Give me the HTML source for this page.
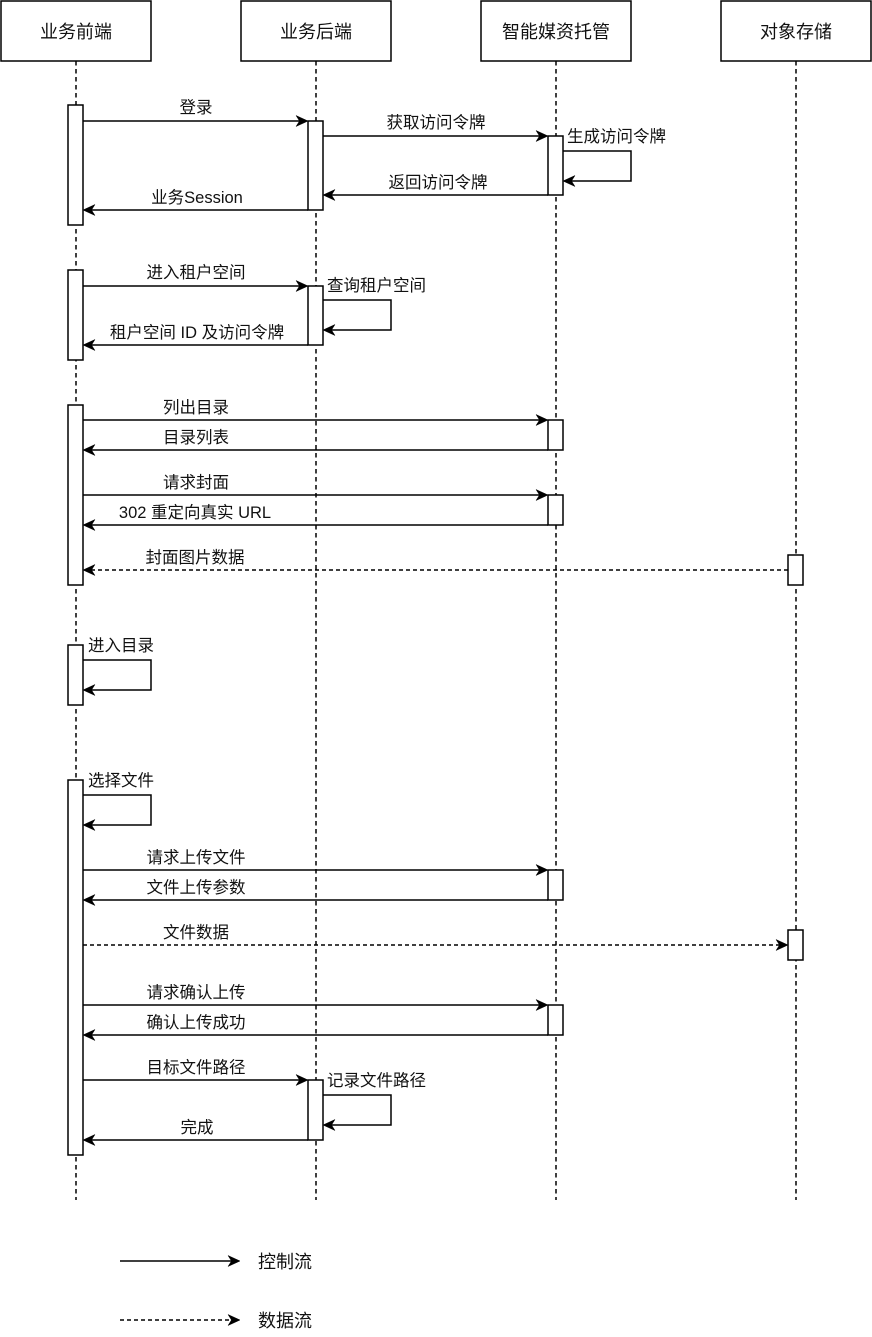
<!DOCTYPE html>
<html><head><meta charset="utf-8"><style>
html,body{margin:0;padding:0;background:#fff;}
svg{display:block;}
text{font-family:"Liberation Sans","Noto Sans CJK SC",sans-serif;fill:#111;}
.m{font-size:16.5px;text-anchor:middle;}
.s{font-size:16.5px;text-anchor:start;}
.p{font-size:18px;text-anchor:middle;}
.l{font-size:18px;text-anchor:start;}
</style></head><body>
<svg width="872" height="1337" viewBox="0 0 872 1337" xmlns="http://www.w3.org/2000/svg">
<rect x="0" y="0" width="872" height="1337" fill="#fff"/>
<!-- participants -->
<g fill="#fff" stroke="#000" stroke-width="1.5">
<rect x="1" y="1" width="150" height="60"/>
<rect x="241" y="1" width="150" height="60"/>
<rect x="481" y="1" width="150" height="60"/>
<rect x="721" y="1" width="150" height="60"/>
</g>
<text class="p" x="76" y="38">业务前端</text>
<text class="p" x="316" y="38">业务后端</text>
<text class="p" x="556" y="38">智能媒资托管</text>
<text class="p" x="796" y="38">对象存储</text>
<!-- lifelines -->
<g stroke="#000" stroke-width="1.5" stroke-dasharray="4.5 3.5">
<line x1="76" y1="61" x2="76" y2="1200"/>
<line x1="316" y1="61" x2="316" y2="1200"/>
<line x1="556" y1="61" x2="556" y2="1200"/>
<line x1="796" y1="61" x2="796" y2="1200"/>
</g>
<!-- activations -->
<g fill="#fff" stroke="#000" stroke-width="1.5">
<rect x="68" y="105" width="15" height="120"/>
<rect x="68" y="270" width="15" height="90"/>
<rect x="68" y="405" width="15" height="180"/>
<rect x="68" y="645" width="15" height="60"/>
<rect x="68" y="780" width="15" height="375"/>
<rect x="308" y="121" width="15" height="89"/>
<rect x="308" y="286" width="15" height="59"/>
<rect x="308" y="1080" width="15" height="60"/>
<rect x="548" y="136" width="15" height="59"/>
<rect x="548" y="420" width="15" height="30"/>
<rect x="548" y="495" width="15" height="30"/>
<rect x="548" y="870" width="15" height="30"/>
<rect x="548" y="1005" width="15" height="30"/>
<rect x="788" y="555" width="15" height="30"/>
<rect x="788" y="930" width="15" height="30"/>
</g>
<!-- arrow lines -->
<g stroke="#000" stroke-width="1.5" fill="none">
<line x1="83" y1="121" x2="304" y2="121"/>
<line x1="323" y1="136" x2="544" y2="136"/>
<polyline points="563,151 631,151 631,181 567,181"/>
<line x1="548" y1="195" x2="327" y2="195"/>
<line x1="308" y1="210" x2="87" y2="210"/>
<line x1="83" y1="286" x2="304" y2="286"/>
<polyline points="323,300 391,300 391,330 327,330"/>
<line x1="308" y1="345" x2="87" y2="345"/>
<line x1="83" y1="420" x2="544" y2="420"/>
<line x1="548" y1="450" x2="87" y2="450"/>
<line x1="83" y1="495" x2="544" y2="495"/>
<line x1="548" y1="525" x2="87" y2="525"/>
<line x1="788" y1="570" x2="87" y2="570" stroke-dasharray="4 3"/>
<polyline points="83,660 151,660 151,690 87,690"/>
<polyline points="83,795 151,795 151,825 87,825"/>
<line x1="83" y1="870" x2="544" y2="870"/>
<line x1="548" y1="900" x2="87" y2="900"/>
<line x1="83" y1="945" x2="784" y2="945" stroke-dasharray="4 3"/>
<line x1="83" y1="1005" x2="544" y2="1005"/>
<line x1="548" y1="1035" x2="87" y2="1035"/>
<line x1="83" y1="1080" x2="304" y2="1080"/>
<polyline points="323,1095 391,1095 391,1125 327,1125"/>
<line x1="308" y1="1140" x2="87" y2="1140"/>
<line x1="120" y1="1261" x2="236" y2="1261"/>
<line x1="120" y1="1320" x2="236" y2="1320" stroke-dasharray="4 3"/>
</g>
<!-- arrowheads -->
<g fill="#000" stroke="#000" stroke-width="0.5" stroke-linejoin="miter">
<path d="M308,121 l-12,-5.5 l3.5,5.5 l-3.5,5.5 z"/>
<path d="M548,136 l-12,-5.5 l3.5,5.5 l-3.5,5.5 z"/>
<path d="M308,286 l-12,-5.5 l3.5,5.5 l-3.5,5.5 z"/>
<path d="M548,420 l-12,-5.5 l3.5,5.5 l-3.5,5.5 z"/>
<path d="M548,495 l-12,-5.5 l3.5,5.5 l-3.5,5.5 z"/>
<path d="M548,870 l-12,-5.5 l3.5,5.5 l-3.5,5.5 z"/>
<path d="M788,945 l-12,-5.5 l3.5,5.5 l-3.5,5.5 z"/>
<path d="M548,1005 l-12,-5.5 l3.5,5.5 l-3.5,5.5 z"/>
<path d="M308,1080 l-12,-5.5 l3.5,5.5 l-3.5,5.5 z"/>
<path d="M240,1261 l-12,-5.5 l3.5,5.5 l-3.5,5.5 z"/>
<path d="M240,1320 l-12,-5.5 l3.5,5.5 l-3.5,5.5 z"/>
<path d="M563,181 l12,-5.5 l-3.5,5.5 l3.5,5.5 z"/>
<path d="M323,195 l12,-5.5 l-3.5,5.5 l3.5,5.5 z"/>
<path d="M83,210 l12,-5.5 l-3.5,5.5 l3.5,5.5 z"/>
<path d="M323,330 l12,-5.5 l-3.5,5.5 l3.5,5.5 z"/>
<path d="M83,345 l12,-5.5 l-3.5,5.5 l3.5,5.5 z"/>
<path d="M83,450 l12,-5.5 l-3.5,5.5 l3.5,5.5 z"/>
<path d="M83,525 l12,-5.5 l-3.5,5.5 l3.5,5.5 z"/>
<path d="M83,570 l12,-5.5 l-3.5,5.5 l3.5,5.5 z"/>
<path d="M83,690 l12,-5.5 l-3.5,5.5 l3.5,5.5 z"/>
<path d="M83,825 l12,-5.5 l-3.5,5.5 l3.5,5.5 z"/>
<path d="M83,900 l12,-5.5 l-3.5,5.5 l3.5,5.5 z"/>
<path d="M83,1035 l12,-5.5 l-3.5,5.5 l3.5,5.5 z"/>
<path d="M323,1125 l12,-5.5 l-3.5,5.5 l3.5,5.5 z"/>
<path d="M83,1140 l12,-5.5 l-3.5,5.5 l3.5,5.5 z"/>
</g>
<!-- labels -->
<text class="m" x="196" y="113">登录</text>
<text class="m" x="436" y="128">获取访问令牌</text>
<text class="s" x="567" y="142">生成访问令牌</text>
<text class="m" x="438" y="188">返回访问令牌</text>
<text class="m" x="197" y="203">业务Session</text>
<text class="m" x="196" y="278">进入租户空间</text>
<text class="s" x="327" y="291">查询租户空间</text>
<text class="m" x="197" y="338">租户空间 ID 及访问令牌</text>
<text class="m" x="196" y="413">列出目录</text>
<text class="m" x="196" y="443">目录列表</text>
<text class="m" x="196" y="488">请求封面</text>
<text class="m" x="195" y="518">302 重定向真实 URL</text>
<text class="m" x="195" y="563">封面图片数据</text>
<text class="s" x="88" y="651">进入目录</text>
<text class="s" x="88" y="786">选择文件</text>
<text class="m" x="196" y="863">请求上传文件</text>
<text class="m" x="196" y="893">文件上传参数</text>
<text class="m" x="196" y="938">文件数据</text>
<text class="m" x="196" y="998">请求确认上传</text>
<text class="m" x="196" y="1028">确认上传成功</text>
<text class="m" x="196" y="1073">目标文件路径</text>
<text class="s" x="327" y="1086">记录文件路径</text>
<text class="m" x="197" y="1133">完成</text>
<text class="l" x="258" y="1268">控制流</text>
<text class="l" x="258" y="1327">数据流</text>
</svg>
</body></html>
